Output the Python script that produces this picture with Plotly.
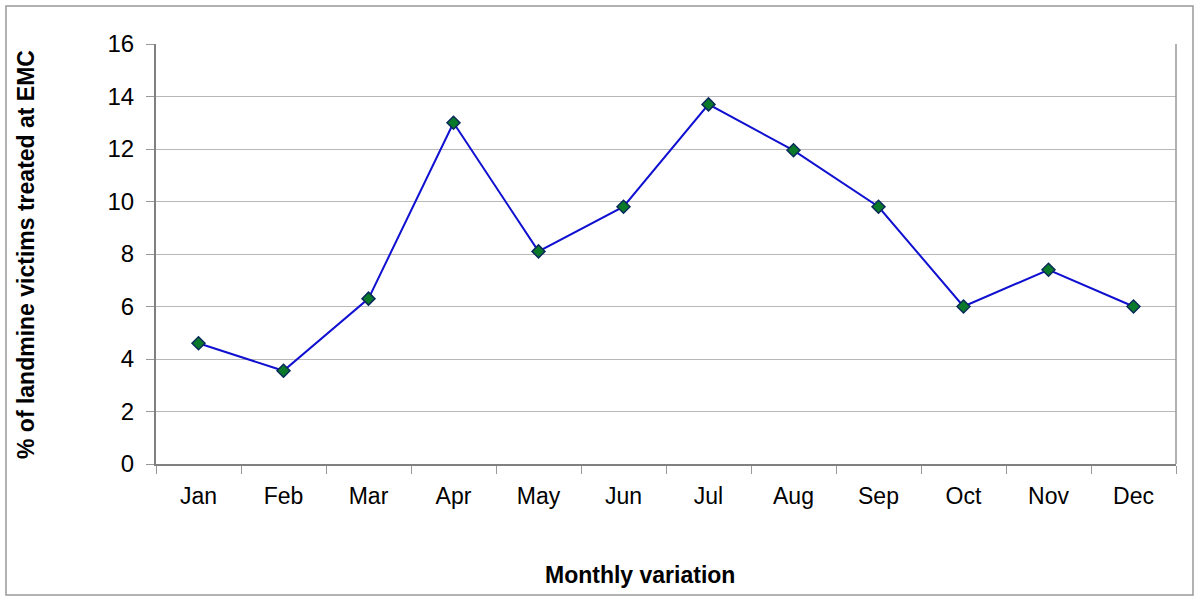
import plotly.graph_objects as go

months = ["Jan", "Feb", "Mar", "Apr", "May", "Jun", "Jul", "Aug", "Sep", "Oct", "Nov", "Dec"]
percent = [4.6, 3.55, 6.3, 13.0, 8.1, 9.8, 13.7, 11.95, 9.8, 6.0, 7.4, 6.0]
y_ticks = [0, 2, 4, 6, 8, 10, 12, 14, 16]

W, H = 1200, 606
L, T = 156, 44
R = W - 1176
B = H - 464
pw, ph = W - L - R, H - T - B

fig = go.Figure()
fig.add_trace(go.Scatter(
    x=months, y=percent, mode="lines+markers",
    line=dict(color="#1010d0", width=2),
    marker=dict(symbol="diamond", size=10, color="#0a7a2a",
                line=dict(color="#0a2a5a", width=1.5)),
    showlegend=False,
))

def px_x(p):
    return (p - L) / pw

def px_y(p):
    return (H - B - p) / ph

fig.update_layout(
    width=W, height=H,
    margin=dict(l=L, r=R, t=T, b=B),
    paper_bgcolor="white", plot_bgcolor="white",
    font=dict(family="Liberation Sans, Arial, sans-serif", color="black"),
    xaxis=dict(
        type="category", range=[-0.5, 11.5],
        tickfont=dict(size=23), ticks="outside", ticklen=8, tickcolor="#999999",
        tickson="boundaries", showgrid=False,
        showline=True, linecolor="#808080", linewidth=2, mirror=False,
        ticklabelstandoff=10,
    ),
    yaxis=dict(
        range=[0, 16], tickvals=y_ticks, tickfont=dict(size=24),
        ticks="outside", ticklen=8, tickcolor="#999999",
        showgrid=True, gridcolor="#b8b8b8", gridwidth=1,
        showline=True, linecolor="#808080", linewidth=2,
        zeroline=False, ticklabelstandoff=7,
    ),
    shapes=[
        dict(type="rect", xref="paper", yref="paper",
             x0=px_x(6), x1=px_x(1193), y0=px_y(595), y1=px_y(6),
             line=dict(color="#999999", width=1.5), layer="below"),
        dict(type="line", xref="paper", yref="paper",
             x0=1, x1=1, y0=0, y1=1, line=dict(color="#999999", width=1.5)),
    ],
    annotations=[
        dict(text="<b>Monthly variation</b>", xref="paper", yref="paper",
             x=px_x(640), y=px_y(575), showarrow=False, font=dict(size=23),
             xanchor="center", yanchor="middle"),
        dict(text="<b>% of landmine victims treated at EMC</b>", xref="paper", yref="paper",
             x=px_x(26), y=px_y(255), showarrow=False, font=dict(size=23),
             textangle=-90, xanchor="center", yanchor="middle"),
    ],
)

fig.write_html(
    "out.html",
    config={"displayModeBar": False},
    post_script="document.body.style.margin='0';document.body.style.overflow='hidden';",
)
